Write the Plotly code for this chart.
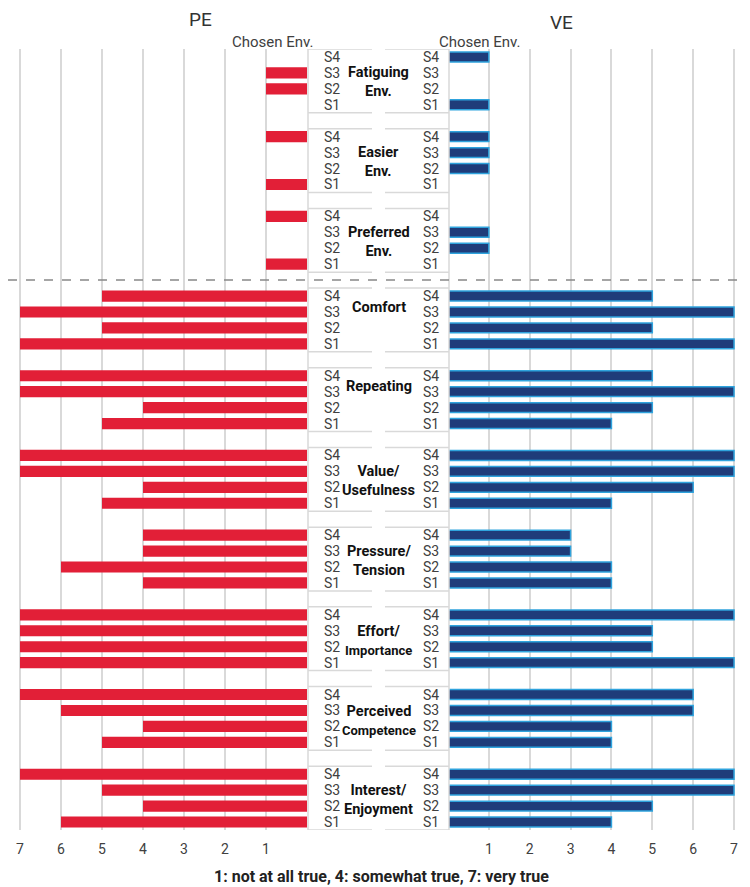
import plotly.graph_objects as go

groups = ["Fatiguing<br>Env.", "Easier<br>Env.", "Preferred<br>Env.", "Comfort", "Repeating",
          "Value/<br>Usefulness", "Pressure/<br>Tension", "Effort/<br>Importance",
          "Perceived<br>Competence", "Interest/<br>Enjoyment"]
sessions = ["S4", "S3", "S2", "S1"]

# values per group, in order S4, S3, S2, S1
pe_values = [
    [0, 1, 1, 0],
    [1, 0, 0, 1],
    [1, 0, 0, 1],
    [5, 7, 5, 7],
    [7, 7, 4, 5],
    [7, 7, 4, 5],
    [4, 4, 6, 4],
    [7, 7, 7, 7],
    [7, 6, 4, 5],
    [7, 5, 4, 6],
]
ve_values = [
    [1, 0, 0, 1],
    [1, 1, 1, 0],
    [0, 1, 1, 0],
    [5, 7, 5, 7],
    [5, 7, 5, 4],
    [7, 7, 6, 4],
    [3, 3, 4, 4],
    [7, 5, 5, 7],
    [6, 6, 4, 4],
    [7, 7, 5, 4],
]
tick_vals = [1, 2, 3, 4, 5, 6, 7]

# page has an 8px body margin: work in page pixels and convert
OFF = 8
FW, FH = 750 - OFF, 887 - OFF
TOP, BOT = 49, 830  # page pixels of plot area
MT = TOP - OFF
MB = FH - (BOT - OFF)
PH = FH - MT - MB


def px(x):
    return (x - OFF) / FW


def py(y):
    return (FH - MB - (y - OFF)) / PH


RED = "#E21F37"
BLUE = "#1F3C7A"
BLUE_EDGE = "#2FA3DD"
GRID = "#D9D9D9"
TXT = "#404040"

ys, pe_x, ve_x = [], [], []
for g in range(len(groups)):
    for r in range(4):
        ys.append(g * 5 + r)
        pe_x.append(pe_values[g][r] if pe_values[g][r] else None)
        ve_x.append(ve_values[g][r] if ve_values[g][r] else None)

fig = go.Figure()
fig.add_trace(go.Bar(x=pe_x, y=ys, orientation="h", width=0.7,
                     marker=dict(color=RED, line=dict(width=0)),
                     xaxis="x", yaxis="y", showlegend=False, hoverinfo="skip"))
fig.add_trace(go.Bar(x=ve_x, y=ys, orientation="h", width=0.62,
                     marker=dict(color=BLUE, line=dict(color=BLUE_EDGE, width=1.5)),
                     xaxis="x2", yaxis="y", showlegend=False, hoverinfo="skip"))

ymax = (len(groups) - 1) * 5 + 3
x_left_dom = [px(20 - 41 * 0.2), px(307)]
x_right_dom = [px(448), px(734 + 41 * 0.2)]

axis_common = dict(tickvals=tick_vals, showgrid=True, gridcolor=GRID, gridwidth=2,
                   zeroline=False, showline=False, ticks="", ticklabelstandoff=9,
                   tickfont=dict(family="Roboto", size=14, color=TXT), fixedrange=True)
fig.update_layout(
    width=FW, height=FH,
    margin=dict(l=0, r=0, t=MT, b=MB),
    paper_bgcolor="white", plot_bgcolor="white",
    barmode="overlay",
    xaxis=dict(domain=x_left_dom, range=[7.2, 0], anchor="y", **axis_common),
    xaxis2=dict(domain=x_right_dom, range=[0, 7.2], anchor="y", **axis_common),
    yaxis=dict(range=[ymax + 0.5, -0.5], showgrid=False, zeroline=False,
               showticklabels=False, ticks="", fixedrange=True),
)

shapes = []
# middle column box
x0, x1 = px(308), px(449)
xm0, xm1 = px(372), px(385)
shapes.append(dict(type="rect", xref="paper", yref="y", x0=x0, x1=x1, y0=-0.5, y1=ymax + 0.5,
                   fillcolor="white", line=dict(width=0), layer="above"))
for xv in (x0, x1):
    shapes.append(dict(type="line", xref="paper", yref="y", x0=xv, x1=xv, y0=-0.5, y1=ymax + 0.5,
                       line=dict(color=GRID, width=1.5)))
for g in range(len(groups)):
    for yv in (g * 5 - 0.5, g * 5 + 3.5):
        for a, b in ((x0, xm0), (xm1, x1)):
            shapes.append(dict(type="line", xref="paper", yref="y", x0=a, x1=b, y0=yv, y1=yv,
                               line=dict(color=GRID, width=1.5)))
# dashed separator between chosen-env block and scales
shapes.append(dict(type="line", xref="paper", yref="y", x0=0, x1=1, y0=14, y1=14,
                   line=dict(color="#888888", width=1.5, dash="dash")))
fig.update_layout(shapes=shapes)

ann = []
for g, name in enumerate(groups):
    for r, s in enumerate(sessions):
        y = g * 5 + r
        for xl in (322, 421):
            ann.append(dict(x=px(xl), y=y, xref="paper", yref="y", text=s, showarrow=False,
                            xanchor="left", yanchor="middle",
                            font=dict(family="Roboto", size=14, color=TXT)))
    two = "<br>" in name
    yc = g * 5 + (1.6 if two else 0.7)
    if "Competence" in name:
        txt = "<b>Perceived</b><br><b><span style='font-size:13px'>Competence</span></b>"
    elif "Importance" in name:
        txt = "<b>Effort/</b><br><b><span style='font-size:13px'>Importance</span></b>"
    else:
        txt = "<b>" + name.replace("<br>", "</b><br><b>") + "</b>"
    ann.append(dict(x=px(378.5), y=yc, xref="paper", yref="y", text=txt, showarrow=False,
                    xanchor="center", yanchor="middle", align="center",
                    font=dict(family="Roboto", size=14.5, color="#111111")))

ann += [
    dict(x=px(187), y=py(20), xref="paper", yref="paper", yanchor="middle", text="PE",
         showarrow=False, font=dict(family="Roboto", size=19, color="#333333")),
    dict(x=px(575), y=py(22), xref="paper", yref="paper", yanchor="middle", text="VE",
         showarrow=False, font=dict(family="Roboto", size=19, color="#333333")),
    dict(x=px(230), y=py(42), xref="paper", yref="paper", yanchor="middle", text="Chosen Env.",
         showarrow=False, font=dict(family="Roboto", size=15, color=TXT)),
    dict(x=px(523), y=py(42), xref="paper", yref="paper", yanchor="middle", text="Chosen Env.",
         showarrow=False, font=dict(family="Roboto", size=15, color=TXT)),
    dict(x=px(381), y=py(876), xref="paper", yref="paper", yanchor="middle",
         text="<b>1: not at all true, 4: somewhat true, 7: very true</b>",
         showarrow=False, font=dict(family="Roboto", size=16, color="#222222")),
]
fig.update_layout(annotations=ann)

fig.write_html("out.html")
